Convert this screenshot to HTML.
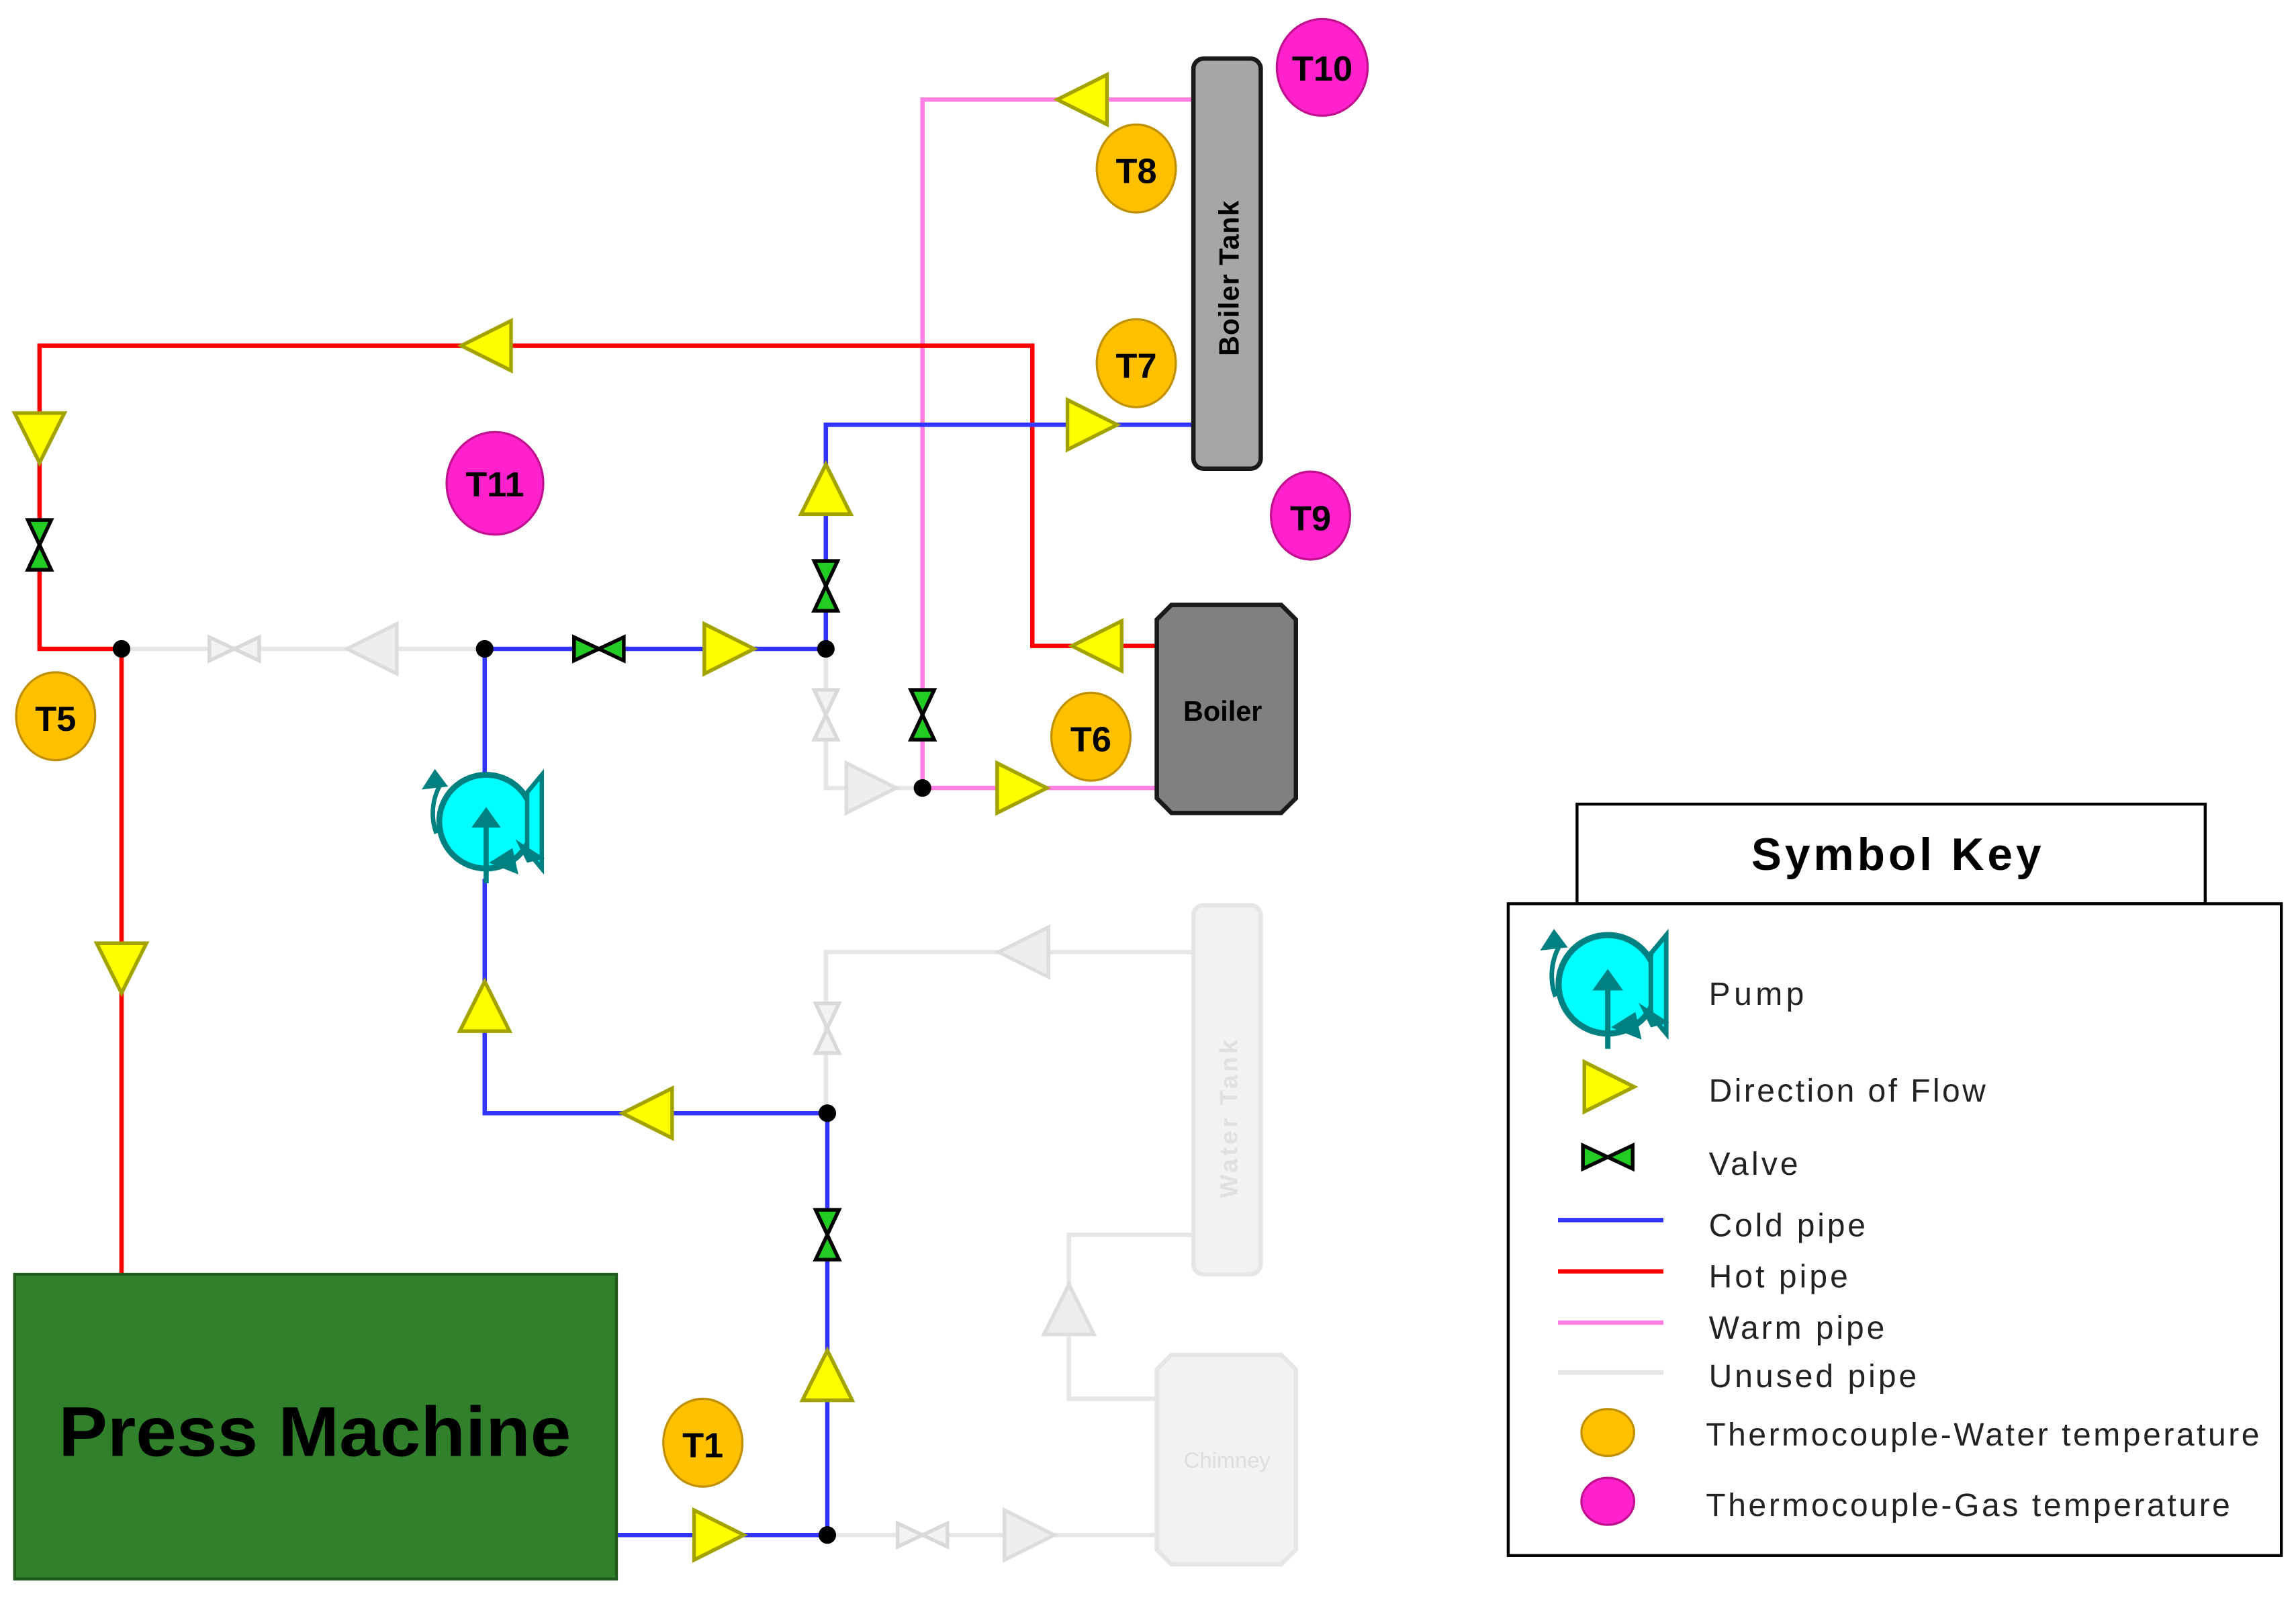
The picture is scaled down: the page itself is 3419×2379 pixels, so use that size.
<!DOCTYPE html>
<html><head><meta charset="utf-8"><style>
html,body{margin:0;padding:0;background:#fff;}
svg{display:block;}
text{font-family:"Liberation Sans",sans-serif;}
</style></head><body>
<svg width="3419" height="2379" viewBox="0 0 1568 1091" preserveAspectRatio="none" xmlns="http://www.w3.org/2000/svg">
<defs>
<polygon id="ar" points="-16,-17 18,0 -16,17" fill="#ffff00" stroke="#a3a300" stroke-width="2.5"/>
<polygon id="arg" points="-16,-17 18,0 -16,17" fill="#eeeeee" stroke="#dddddd" stroke-width="2.5"/>
<g id="vl"><polygon points="-17,-8 0,0 -17,8" fill="#22cc22" stroke="#000" stroke-width="2.5"/><polygon points="17,-8 0,0 17,8" fill="#22cc22" stroke="#000" stroke-width="2.5"/></g>
<g id="vlg"><polygon points="-17,-8 0,0 -17,8" fill="#f2f2f2" stroke="#d9d9d9" stroke-width="2.5"/><polygon points="17,-8 0,0 17,8" fill="#f2f2f2" stroke="#d9d9d9" stroke-width="2.5"/></g>
<g id="pump">
<circle cx="0" cy="0" r="32" fill="#00ffff" stroke="#008080" stroke-width="4"/>
<polygon points="28,-20 38,-32 38,32 28,20" fill="#00ffff" stroke="#008080" stroke-width="3"/>
<line x1="0" y1="0" x2="0" y2="42" stroke="#008080" stroke-width="3.5"/>
<polygon points="-10,4 0,-10 10,4" fill="#008080"/>
<path d="M-32,-24 A40,40 0 0 0 -34,8" stroke="#008080" stroke-width="3" fill="none"/>
<polygon points="-44,-22 -35,-36 -26,-24" fill="#008080"/>
<polygon points="20,12 40,25 28,28" fill="#008080"/>
<polygon points="2,28 18,18 22,36" fill="#008080"/>
</g>
</defs>

<g stroke="#e6e6e6" stroke-width="3" fill="none">
<polyline points="83,443 331,443"/>
<polyline points="564,443 564,538 630,538"/>
<polyline points="815,650 564,650 564,760"/>
<polyline points="815,843 730,843 730,955 790,955"/>
<polyline points="565,1048 790,1048"/>
</g>
<use href="#vlg" x="160" y="443"/>
<use href="#arg" transform="translate(255,443) rotate(180)"/>
<use href="#vlg" transform="translate(564,488) rotate(90)"/>
<use href="#arg" transform="translate(594,538)"/>
<use href="#arg" transform="translate(700,650) rotate(180)"/>
<use href="#vlg" transform="translate(565,702) rotate(90)"/>
<use href="#arg" transform="translate(730,895) rotate(-90)"/>
<use href="#vlg" x="630" y="1048"/>
<use href="#arg" transform="translate(702,1048)"/>
<rect x="815" y="618" width="46" height="252" rx="7" fill="#f2f2f2" stroke="#e6e6e6" stroke-width="3"/>
<text transform="translate(845,818) rotate(-90)" font-size="17" font-weight="bold" fill="#e0e0e0" textLength="108">Water Tank</text>
<path d="M800,925 H875 L885,935 V1058 L875,1068 H800 L790,1058 V935 Z" fill="#f2f2f2" stroke="#e6e6e6" stroke-width="3"/>
<text x="838" y="1002" font-size="15" fill="#dddddd" text-anchor="middle">Chimney</text>

<polyline points="815,68 630,68 630,538 790,538" stroke="#ff80e0" stroke-width="3" fill="none"/>
<polyline points="790,441 705,441 705,236 27,236 27,443 83,443 83,870" stroke="#ff0000" stroke-width="3" fill="none"/>
<polyline points="815,290 564,290 564,443 331,443 331,528" stroke="#3333ff" stroke-width="3" fill="none"/>
<polyline points="331,600 331,760 565,760 565,1048 420,1048" stroke="#3333ff" stroke-width="3" fill="none"/>

<use href="#ar" transform="translate(740,68) rotate(180)"/>
<use href="#ar" transform="translate(333,236) rotate(180)"/>
<use href="#ar" transform="translate(27,298) rotate(90)"/>
<use href="#ar" transform="translate(750,441) rotate(180)"/>
<use href="#ar" transform="translate(83,660) rotate(90)"/>
<use href="#ar" transform="translate(745,290)"/>
<use href="#ar" transform="translate(564,335) rotate(-90)"/>
<use href="#ar" transform="translate(497,443)"/>
<use href="#ar" transform="translate(697,538)"/>
<use href="#ar" transform="translate(331,688) rotate(-90)"/>
<use href="#ar" transform="translate(443,760) rotate(180)"/>
<use href="#ar" transform="translate(565,940) rotate(-90)"/>
<use href="#ar" transform="translate(490,1048)"/>
<use href="#vl" transform="translate(27,372) rotate(90)"/>
<use href="#vl" transform="translate(564,400) rotate(90)"/>
<use href="#vl" x="409" y="443"/>
<use href="#vl" transform="translate(630,488) rotate(90)"/>
<use href="#vl" transform="translate(565,843) rotate(90)"/>
<g fill="#000">
<circle cx="83" cy="443" r="6"/><circle cx="331" cy="443" r="6"/><circle cx="564" cy="443" r="6"/>
<circle cx="630" cy="538" r="6"/><circle cx="565" cy="760" r="6"/><circle cx="565" cy="1048" r="6"/>
</g>
<use href="#pump" x="332" y="561"/>

<rect x="815" y="40" width="46" height="280" rx="7" fill="#a6a6a6" stroke="#1a1a1a" stroke-width="3"/>
<text transform="translate(846,243) rotate(-90)" font-size="19" font-weight="bold" fill="#000" textLength="106">Boiler Tank</text>
<path d="M800,413 H875 L885,423 V545 L875,555 H800 L790,545 V423 Z" fill="#808080" stroke="#1a1a1a" stroke-width="3"/>
<text x="835" y="492" font-size="19" font-weight="bold" fill="#000" text-anchor="middle">Boiler</text>
<rect x="10" y="870" width="411" height="208" fill="#31812c" stroke="#1f5a1c" stroke-width="2"/>
<text x="40" y="994" font-size="48" font-weight="bold" fill="#000" textLength="350" lengthAdjust="spacingAndGlyphs">Press Machine</text>

<g font-size="24" font-weight="bold" text-anchor="middle" fill="#000">
<ellipse cx="903" cy="46" rx="31" ry="33" fill="#ff22cc" stroke="#c0108f" stroke-width="1.5"/><text x="903" y="55">T10</text>
<ellipse cx="776" cy="115" rx="27" ry="30" fill="#ffc000" stroke="#c09000" stroke-width="1.5"/><text x="776" y="125">T8</text>
<ellipse cx="776" cy="248" rx="27" ry="30" fill="#ffc000" stroke="#c09000" stroke-width="1.5"/><text x="776" y="258">T7</text>
<ellipse cx="895" cy="352" rx="27" ry="30" fill="#ff22cc" stroke="#c0108f" stroke-width="1.5"/><text x="895" y="362">T9</text>
<ellipse cx="338" cy="330" rx="33" ry="35" fill="#ff22cc" stroke="#c0108f" stroke-width="1.5"/><text x="338" y="339">T11</text>
<ellipse cx="745" cy="503" rx="27" ry="30" fill="#ffc000" stroke="#c09000" stroke-width="1.5"/><text x="745" y="513">T6</text>
<ellipse cx="38" cy="489" rx="27" ry="30" fill="#ffc000" stroke="#c09000" stroke-width="1.5"/><text x="38" y="499">T5</text>
<ellipse cx="480" cy="985" rx="27" ry="30" fill="#ffc000" stroke="#c09000" stroke-width="1.5"/><text x="480" y="995">T1</text>
</g>

<rect x="1077" y="549" width="429" height="68" fill="#fff" stroke="#000" stroke-width="2"/>
<text x="1196" y="594" font-size="31" font-weight="bold" fill="#000" textLength="198">Symbol Key</text>
<rect x="1030" y="617" width="528" height="445" fill="#fff" stroke="#000" stroke-width="2"/>
<use href="#pump" transform="translate(1098,672) scale(1.05)"/>
<use href="#ar" transform="translate(1098,742)"/>
<use href="#vl" x="1098" y="790"/>
<line x1="1064" y1="833" x2="1136" y2="833" stroke="#3333ff" stroke-width="3"/>
<line x1="1064" y1="868" x2="1136" y2="868" stroke="#ff0000" stroke-width="3"/>
<line x1="1064" y1="903" x2="1136" y2="903" stroke="#ff80e0" stroke-width="3"/>
<line x1="1064" y1="937" x2="1136" y2="937" stroke="#e6e6e6" stroke-width="3"/>
<ellipse cx="1098" cy="978" rx="18" ry="16" fill="#ffc000" stroke="#c09000" stroke-width="1.5"/>
<ellipse cx="1098" cy="1025" rx="18" ry="16" fill="#ff22cc" stroke="#c0108f" stroke-width="1.5"/>
<g font-size="22" fill="#222" lengthAdjust="spacingAndGlyphs">
<text x="1167" y="686" textLength="65">Pump</text>
<text x="1167" y="752" textLength="189">Direction of Flow</text>
<text x="1167" y="802" textLength="61">Valve</text>
<text x="1167" y="844" textLength="107">Cold pipe</text>
<text x="1167" y="879" textLength="95">Hot pipe</text>
<text x="1167" y="914" textLength="120">Warm pipe</text>
<text x="1167" y="947" textLength="142">Unused pipe</text>
<text x="1165" y="987" textLength="378">Thermocouple-Water temperature</text>
<text x="1165" y="1035" textLength="358">Thermocouple-Gas temperature</text>
</g>
</svg>
</body></html>
